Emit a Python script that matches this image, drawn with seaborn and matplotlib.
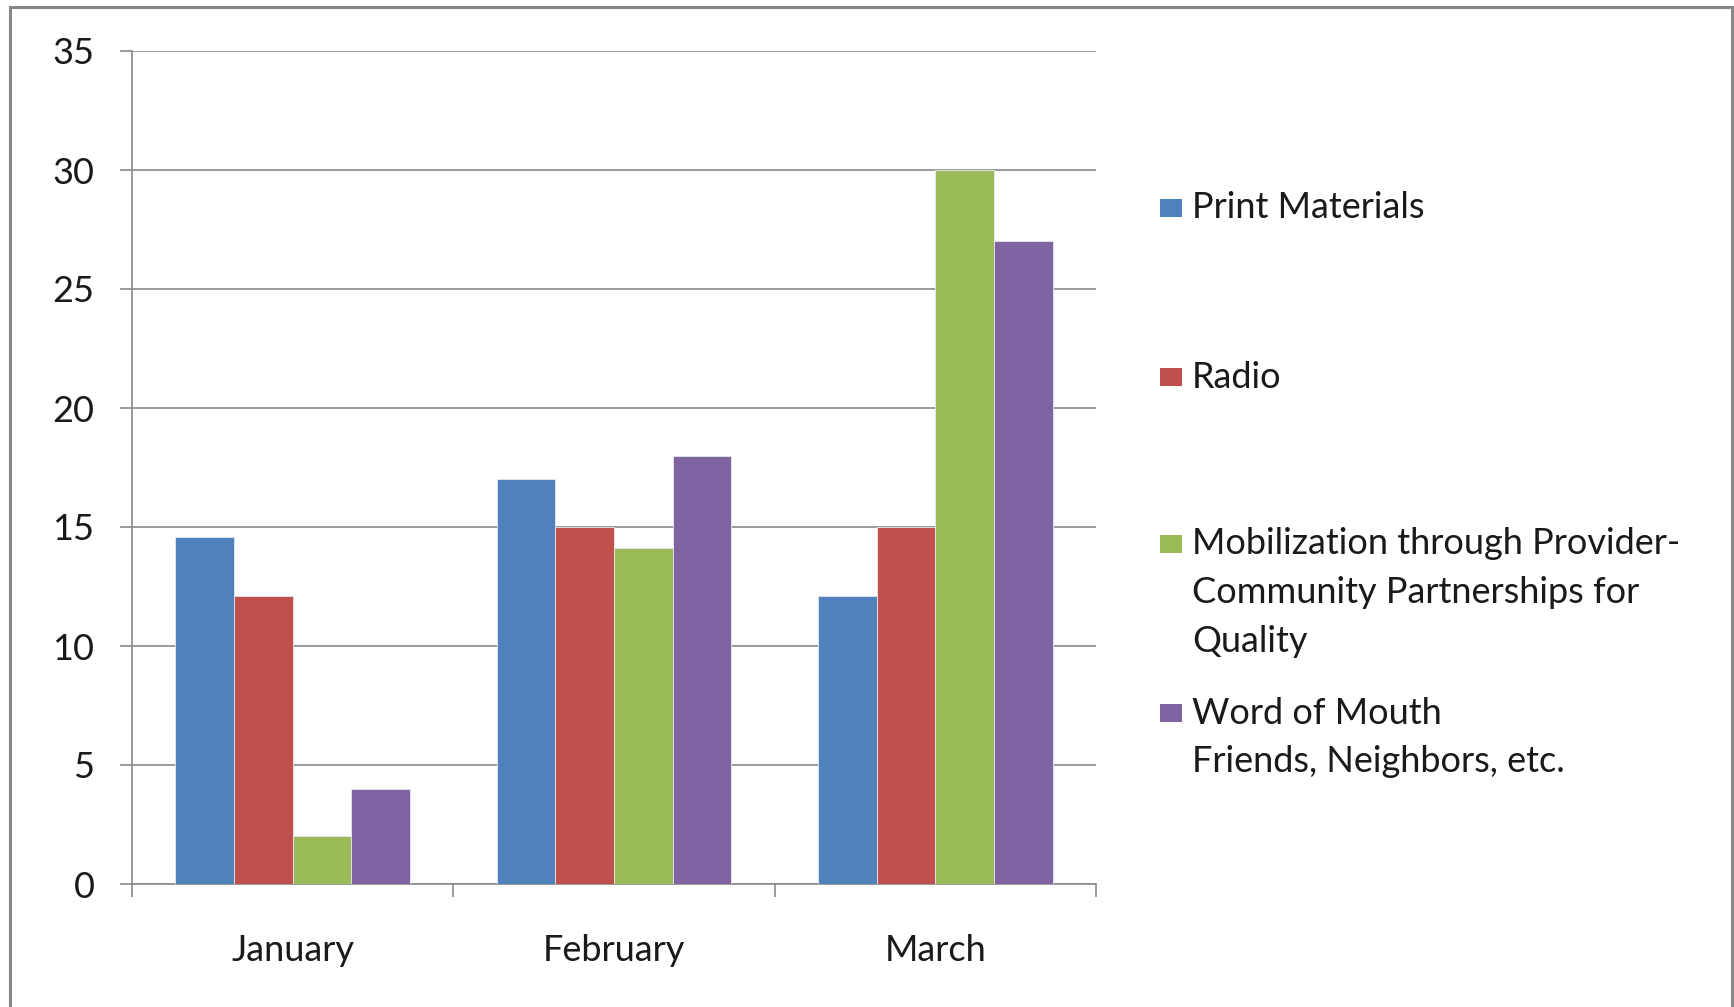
import matplotlib
matplotlib.use("Agg")
import matplotlib.pyplot as plt
from matplotlib.patches import Rectangle
import pandas as pd
import seaborn as sns

# Data
months = ["January", "February", "March"]
series = [
    "Print Materials",
    "Radio",
    "Mobilization through Provider-Community Partnerships for Quality",
    "Word of Mouth Friends, Neighbors, etc.",
]
print_materials = [14.6, 17, 12.1]
radio = [12.1, 15, 15]
mobilization = [2, 14.1, 30]
word_of_mouth = [4, 18, 27]
yticks = [0, 5, 10, 15, 20, 25, 30, 35]

legend_lines = [
    ["Print Materials"],
    ["Radio"],
    ["Mobilization through Provider-", "Community Partnerships for", "Quality"],
    ["Word of Mouth", "Friends, Neighbors, etc."],
]
colors = ["#4F81BD", "#C0504D", "#9BBB59", "#8064A2"]

values = [print_materials, radio, mobilization, word_of_mouth]
rows = []
for s, vals in zip(series, values):
    for m, v in zip(months, vals):
        rows.append({"month": m, "series": s, "value": v})
df = pd.DataFrame(rows)

sns.set_theme(style="white")
FONT = ["Lato", "DejaVu Sans"]
plt.rcParams["font.family"] = FONT
TEXT_COLOR = "#1a1a1a"
GRID = "#8a8a8a"
FS = 26

W, H = 1734, 1007
fig = plt.figure(figsize=(W / 100, H / 100), dpi=100)
fig.patch.set_facecolor("white")


def fx(px):
    return px / W


def fy(py):
    return 1 - py / H


ax = fig.add_axes([fx(132), fy(884), fx(1096) - fx(132), fy(51) - fy(884)])

sns.barplot(
    data=df, x="month", y="value", hue="series", order=months, hue_order=series,
    palette=colors, saturation=1, width=0.73, dodge=True, legend=False,
    edgecolor="#e6e9f0", linewidth=0.6, ax=ax, zorder=3,
)

ax.set_xlim(-0.5, 2.5)
ax.set_ylim(0, 35)
ax.set_yticks(yticks)
ax.set_yticklabels([str(t) for t in yticks])
ax.set_xlabel("")
ax.set_ylabel("")

# horizontal gridlines
ax.yaxis.grid(True, color=GRID, linewidth=1.2, zorder=0)
ax.xaxis.grid(False)
ax.set_axisbelow(True)

for side in ["top", "right"]:
    ax.spines[side].set_visible(False)
for side in ["left", "bottom"]:
    ax.spines[side].set_color(GRID)
    ax.spines[side].set_linewidth(1.2)

# category boundary ticks on the x axis
ax.set_xticks([-0.5, 0.5, 1.5, 2.5], minor=True)
ax.tick_params(axis="x", which="minor", bottom=True, length=9, width=1.2, color=GRID)
ax.tick_params(axis="x", which="major", bottom=False, length=0, pad=36,
               labelsize=FS, labelcolor=TEXT_COLOR)
ax.tick_params(axis="y", which="major", left=True, length=9, width=1.2, color=GRID,
               pad=18, labelsize=FS, labelcolor=TEXT_COLOR)

# legend on the right
legend_top = [208, 377, 544, 713]
line_gap = 48.5
for color, lines, y0 in zip(colors, legend_lines, legend_top):
    fig.patches.append(Rectangle((fx(1160), fy(y0 + 9)), fx(1182) - fx(1160), fy(y0 - 9) - fy(y0 + 9),
                                 transform=fig.transFigure, facecolor=color,
                                 edgecolor="none", figure=fig))
    for i, line in enumerate(lines):
        fig.text(fx(1192), fy(y0 + i * line_gap), line, ha="left", va="center",
                 fontsize=FS, color=TEXT_COLOR, family=FONT)

# outer chart frame
fig.patches.append(Rectangle((fx(10), -0.05), fx(1732) - fx(10), fy(7) + 0.05,
                             transform=fig.transFigure, facecolor="none",
                             edgecolor="#878787", linewidth=2.2, figure=fig))

fig.savefig("out.png", dpi=100, facecolor="white")
